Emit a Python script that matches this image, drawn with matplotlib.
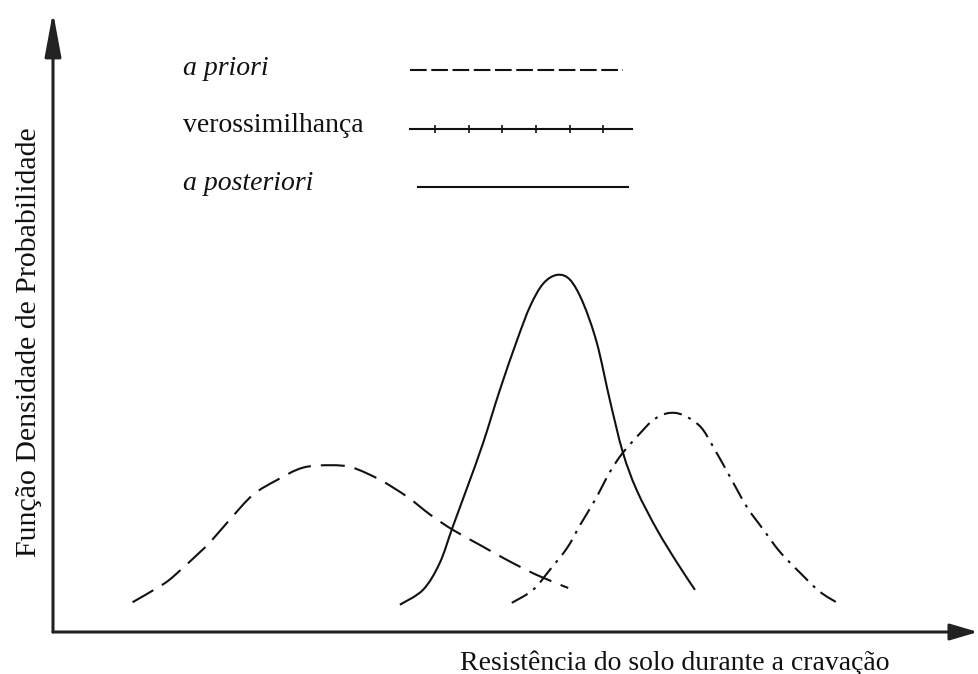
import matplotlib
matplotlib.use("Agg")
import matplotlib.pyplot as plt
from matplotlib.path import Path
from matplotlib.patches import PathPatch
import numpy as np

# Curves (x: resistance, 0-100 along the axis; y: density, 0-100 up the axis)
prior_x = [8.6, 11.8, 13.2, 15.9, 17.0, 19.1, 21.6, 24.2, 27.0, 30.0, 32.4, 35.4,
           38.3, 40.8, 43.2, 46.2, 49.1, 52.3, 55.7]
prior_y = [4.8, 7.6, 9.2, 12.9, 14.5, 18.1, 22.1, 24.5, 26.5, 26.9, 26.5, 24.5,
           21.8, 18.9, 16.5, 14.0, 11.6, 9.2, 7.1]

post_x = [37.5, 40.0, 41.8, 43.2, 44.8, 46.5, 48.3, 50.2, 51.6, 53.0, 54.5, 55.9,
          57.3, 58.8, 60.2, 61.6, 63.1, 65.3, 67.5, 69.4]
post_y = [4.4, 6.8, 11.1, 16.9, 23.4, 30.5, 39.0, 47.2, 52.6, 56.2, 57.6, 56.8,
          53.1, 46.6, 37.4, 29.0, 22.9, 16.5, 11.1, 6.8]

lik_x = [49.6, 51.9, 53.7, 55.6, 57.0, 58.6, 60.2, 61.6, 63.5, 64.9, 66.5, 68.1,
         70.0, 71.4, 73.2, 75.0, 76.8, 78.6, 80.8, 82.9, 84.8]
lik_y = [4.7, 6.8, 10.0, 13.6, 17.3, 21.3, 25.8, 28.9, 32.1, 34.2, 35.3, 35.0,
         33.1, 29.8, 25.0, 20.2, 16.5, 12.9, 9.5, 6.5, 4.7]

legend_labels = ["a priori", "verossimilhança", "a posteriori"]
legend_italic = [True, False, True]
x_label = "Resistência do solo durante a cravação"
y_label = "Função Densidade de Probabilidade"

INK = "#111111"
SERIF = ["Liberation Serif", "DejaVu Serif"]


def smooth_path(xs, ys):
    """Bezier path through the read points (Catmull-Rom tangents)"""
    p = np.column_stack([xs, ys]).astype(float)
    ext = np.vstack([p[0], p, p[-1]])
    verts = [p[0]]
    codes = [Path.MOVETO]
    for i in range(len(p) - 1):
        a, b, c, d = ext[i], ext[i + 1], ext[i + 2], ext[i + 3]
        verts += [b + (c - a) / 6, c - (d - b) / 6, c]
        codes += [Path.CURVE4] * 3
    return Path(verts, codes)


fig = plt.figure(figsize=(9.79, 6.74), dpi=100)
fig.patch.set_facecolor("white")

# axes origin sits at the corner of the drawn arrows
ax = fig.add_axes([53 / 979, 42 / 674, 925 / 979, 620 / 674])
ax.set_xlim(0, 100)
ax.set_ylim(0, 100)
ax.axis("off")

lw = 1.5
curves = [
    (prior_x, prior_y, (0, (11.5, 4.8))),
    (post_x, post_y, "-"),
    (lik_x, lik_y, (0, (8.7, 3.4, 1.4, 3.4))),
]
for xs, ys, style in curves:
    ax.add_patch(PathPatch(smooth_path(xs, ys), fill=False, edgecolor=INK,
                           lw=lw, linestyle=style, capstyle="butt",
                           joinstyle="round"))

# axis arrows
ax.annotate("", xy=(100, 0), xytext=(0, 0), xycoords="data",
            arrowprops=dict(arrowstyle="-|>,head_length=1.7,head_width=0.5",
                            mutation_scale=10, lw=2.2, color="#222222",
                            shrinkA=0, shrinkB=0),
            annotation_clip=False)
ax.annotate("", xy=(0, 100), xytext=(0, 0), xycoords="data",
            arrowprops=dict(arrowstyle="-|>,head_length=2.7,head_width=0.5",
                            mutation_scale=10, lw=2.2, color="#222222",
                            shrinkA=0, shrinkB=0),
            annotation_clip=False)

# legend drawn by hand, like the original figure
text_y = [89.8, 80.6, 71.3]
for lab, ital, ty in zip(legend_labels, legend_italic, text_y):
    ax.text(14.1, ty, lab, fontsize=20, family=SERIF, color=INK,
            style="italic" if ital else "normal", va="baseline", ha="left")

ax.plot([38.6, 61.6], [90.6, 90.6], color=INK, lw=lw, dashes=(8, 2.2))
ax.plot([38.6, 62.6], [81.1, 81.1], color=INK, lw=lw)
ax.plot(np.linspace(41.3, 59.5, 6), [81.1] * 6, ls="none", marker="|",
        ms=6, mew=1.2, color=INK)
ax.plot([39.5, 62.2], [71.8, 71.8], color=INK, lw=lw)

ax.text(44.0, -5.0, x_label, fontsize=20, family=SERIF, color=INK,
        ha="left", va="center", clip_on=False)
ax.text(-2.6, 46.8, y_label, fontsize=21.5, family=SERIF, color=INK,
        rotation=90, ha="center", va="center", clip_on=False)

fig.savefig("out.png", dpi=100, facecolor="white")
